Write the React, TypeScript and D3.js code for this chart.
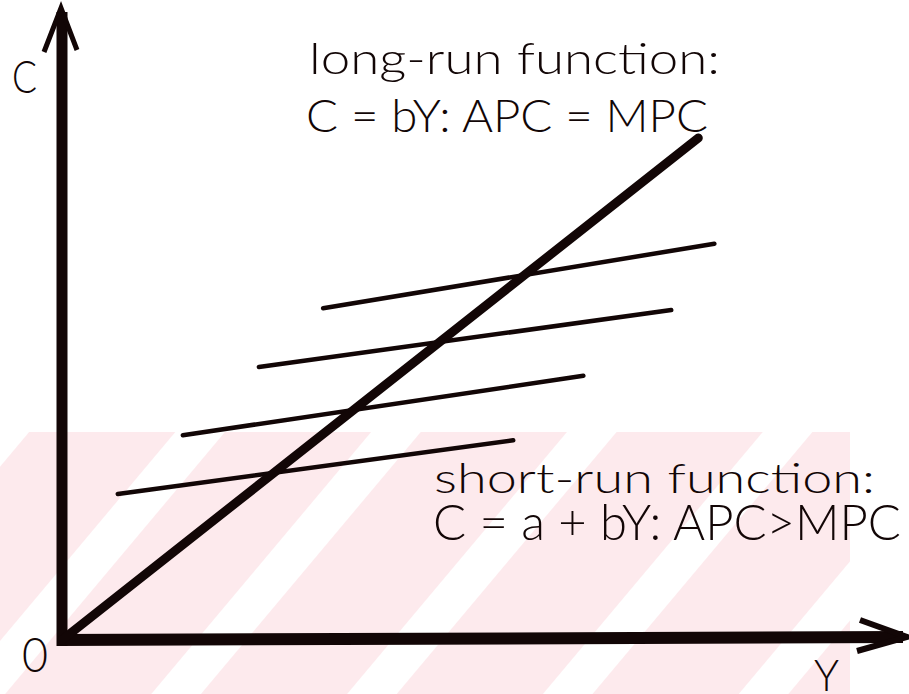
import React from "react";
import * as d3 from "d3";

// ---- data ----
// axis extents (data units)
const axisMaxY = [10];
const axisMaxC = [10];
// long-run consumption function C = bY
const longRunB = [1.055];
const longRunEndY = [7.53];
// short-run consumption functions C = a + bY (segment end points)
const shortStartY = [3.09, 2.33, 1.43, 0.66];
const shortStartC = [5.25, 4.32, 3.24, 2.31];
const shortEndY = [7.72, 7.21, 6.17, 5.34];
const shortEndC = [6.27, 5.22, 4.18, 3.16];
// labels
const labelLongRun = ["long-run function:", "C = bY: APC = MPC"];
const labelShortRun = ["short-run function:", "C = a + bY:  APC>MPC"];
const axisLabels = ["C", "Y", "0"];

const W = 909;
const H = 694;

export default function App() {
  const x = d3.scaleLinear().domain([0, 10]).range([62, 907]);
  const y = d3.scaleLinear().domain([0, 10]).range([640, 8]);
  const line = d3
    .line<[number, number]>()
    .x((d) => x(d[0]))
    .y((d) => y(d[1]));

  const ink = "#120606";
  const font = "Lato, 'Open Sans', 'DejaVu Sans', sans-serif";

  const longPts: [number, number][] = [
    [0, 0],
    [longRunEndY[0], longRunB[0] * longRunEndY[0]],
  ];

  const x0 = x(0);
  const y0 = y(0);
  const yTop = y(axisMaxC[0]);
  const xRight = x(axisMaxY[0]);

  return (
    <svg
      width={W}
      height={H}
      viewBox={`0 0 ${W} ${H}`}
      style={{ position: "absolute", left: 0, top: 0, display: "block", background: "#fff" }}
    >
      <defs>
        <pattern
          id="wm"
          patternUnits="userSpaceOnUse"
          width={150}
          height={150}
          patternTransform="rotate(40)"
        >
          <rect x={0} y={0} width={112} height={150} fill="#fdeaed" />
        </pattern>
        <clipPath id="wmclip">
          <rect x={0} y={432} width={850} height={262} />
        </clipPath>
      </defs>

      {/* faint scan watermark */}
      <g clipPath="url(#wmclip)">
        <rect x={0} y={432} width={850} height={262} fill="url(#wm)" />
      </g>

      {/* axes */}
      <line x1={x0} y1={y0 + 6} x2={x0} y2={yTop + 4} stroke={ink} strokeWidth={11} />
      <line x1={x0 - 5} y1={y0} x2={xRight - 4} y2={y0 - 3} stroke={ink} strokeWidth={12} />
      {/* arrow heads */}
      <polyline
        points={`${x0 - 18},${yTop + 44} ${x0 - 1},${yTop} ${x0 + 15},${yTop + 42}`}
        fill="none"
        stroke={ink}
        strokeWidth={5}
        strokeLinejoin="miter"
      />
      <polyline
        points={`${xRight - 47},${y0 - 20} ${xRight},${y0 - 3} ${xRight - 50},${y0 + 11}`}
        fill="none"
        stroke={ink}
        strokeWidth={6}
        strokeLinejoin="miter"
      />

      {/* short-run functions */}
      {shortStartY.map((sy, i) => (
        <path
          key={i}
          d={line([
            [sy, shortStartC[i]],
            [shortEndY[i], shortEndC[i]],
          ]) as string}
          fill="none"
          stroke={ink}
          strokeWidth={4.5}
          strokeLinecap="round"
        />
      ))}

      {/* long-run function */}
      <path d={line(longPts) as string} fill="none" stroke={ink} strokeWidth={9} strokeLinecap="round" />

      {/* labels */}
      <g fill={ink} fontFamily={font} fontWeight={300}>
        <text x={309} y={74} fontSize={44} textLength={411} lengthAdjust="spacingAndGlyphs">
          {labelLongRun[0]}
        </text>
        <text x={306} y={132} fontSize={46} textLength={402} lengthAdjust="spacingAndGlyphs">
          {labelLongRun[1]}
        </text>
        <text x={434} y={493} fontSize={42} textLength={441} lengthAdjust="spacingAndGlyphs">
          {labelShortRun[0]}
        </text>
        <text x={433} y={540} fontSize={49} textLength={468} lengthAdjust="spacingAndGlyphs">
          {labelShortRun[1]}
        </text>
        <text x={12} y={93} fontSize={46} textLength={25} lengthAdjust="spacingAndGlyphs">
          {axisLabels[0]}
        </text>
        <text x={814} y={691} fontSize={44} textLength={25} lengthAdjust="spacingAndGlyphs">
          {axisLabels[1]}
        </text>
        <text x={22} y={672} fontSize={48} textLength={26} lengthAdjust="spacingAndGlyphs">
          {axisLabels[2]}
        </text>
      </g>
    </svg>
  );
}
